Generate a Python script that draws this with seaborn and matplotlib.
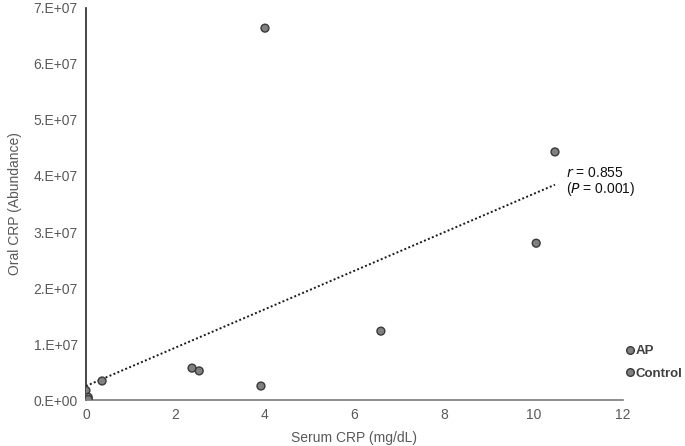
import numpy as np
import pandas as pd
import matplotlib.pyplot as plt
import seaborn as sns
from matplotlib.ticker import FuncFormatter, MultipleLocator

# Data
serum_crp = [0.0, 0.05, 0.05, 0.36, 2.37, 2.53, 3.91, 4.0, 6.59, 10.06, 10.48]
oral_crp = [1.7e6, 5.0e5, 1.0e5, 3.4e6, 5.7e6, 5.2e6, 2.5e6, 6.64e7, 1.23e7, 2.80e7, 4.43e7]
group = ['Control', 'Control', 'Control', 'Control', 'AP', 'AP', 'AP', 'AP', 'AP', 'AP', 'AP']
trend_intercept = 2.5e6
trend_slope = 3.43e6

df = pd.DataFrame({'serum': serum_crp, 'oral': oral_crp, 'group': group})

sns.set_style('white')
plt.rcParams['font.family'] = ['Liberation Sans', 'DejaVu Sans']

fig = plt.figure(figsize=(6.85, 4.46), dpi=100)
ax = fig.add_axes([0.1255, 0.1031, 0.784, 0.879])

sns.scatterplot(data=df, x='serum', y='oral', hue='group', hue_order=['AP', 'Control'],
                palette={'AP': '#808080', 'Control': '#808080'},
                s=32, edgecolor='#3a3a3a', linewidth=1.0, ax=ax, legend=False, zorder=3)

# Linear trend line (dotted)
xs = np.array([0, max(serum_crp)])
ax.plot(xs, trend_intercept + trend_slope * xs, ls=(0, (1, 1.2)), color='#1a1a1a', lw=1.4, zorder=2)

ax.text(10.72, 4.05e7, r'$\it{r}$ = 0.855', fontsize=10, color='#111111', va='center')
ax.text(10.72, 3.77e7, r'($\it{P}$ = 0.001)', fontsize=10, color='#111111', va='center')

ax.set_xlim(0, 12)
ax.set_ylim(0, 7e7)
ax.xaxis.set_major_locator(MultipleLocator(2))
ax.yaxis.set_major_locator(MultipleLocator(1e7))


def sci_fmt(v, pos):
    if v == 0:
        return '0.E+00'
    exp = int(np.floor(np.log10(abs(v))))
    return '%d.E+%02d' % (round(v / 10 ** exp), exp)


ax.yaxis.set_major_formatter(FuncFormatter(sci_fmt))
ax.tick_params(axis='both', length=0, labelsize=10, labelcolor='#595959', pad=6)
ax.set_xlabel('Serum CRP (mg/dL)', fontsize=10, color='#595959', labelpad=6)
ax.set_ylabel('Oral CRP (Abundance)', fontsize=10, color='#595959', labelpad=8)

for side in ['top', 'right']:
    ax.spines[side].set_visible(False)
ax.spines['left'].set_color('#262626')
ax.spines['left'].set_linewidth(1.2)
ax.spines['bottom'].set_color('#7a7a7a')
ax.spines['bottom'].set_linewidth(1.2)

# Legend
handles = [plt.Line2D([], [], marker='o', ls='', markersize=5.5, markerfacecolor='#808080',
                      markeredgecolor='#3a3a3a', markeredgewidth=1.0) for _ in range(2)]
leg = fig.legend(handles, ['AP', 'Control'], loc='upper left', bbox_to_anchor=(0.912, 0.226),
                 frameon=False, handletextpad=0.05, handlelength=0.8, labelspacing=0.75,
                 borderaxespad=0, borderpad=0, prop={'weight': 'bold', 'size': 9.5})
for t in leg.get_texts():
    t.set_color('#404040')

fig.savefig('out.png', dpi=100)
